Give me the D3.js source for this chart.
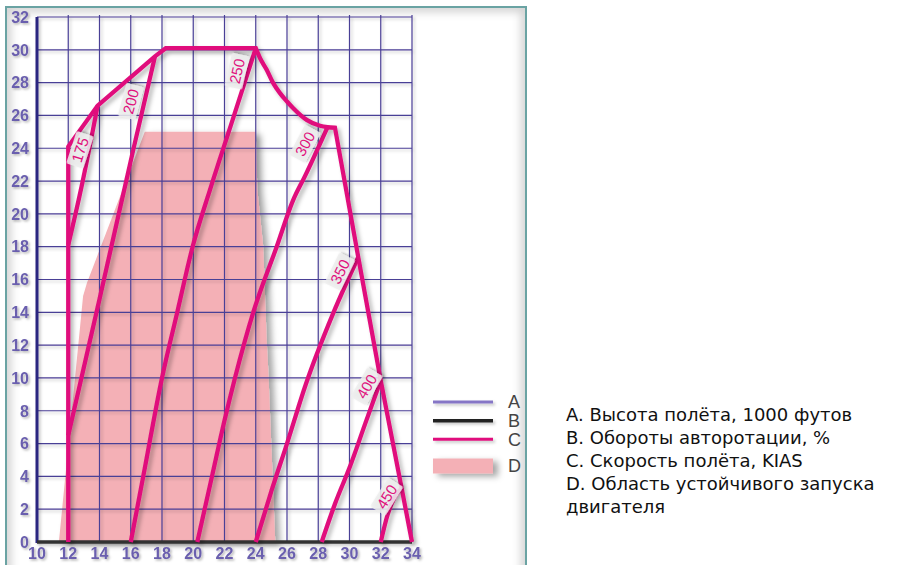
<!DOCTYPE html>
<html><head><meta charset="utf-8">
<script src="https://cdn.jsdelivr.net/npm/d3@7"></script>
<style>body{margin:0;background:#fff;} svg{display:block;}</style>
</head><body>
<svg id="chart" width="898" height="565"></svg>
<script>
// ---------- data ----------
const xTicks = [10,12,14,16,18,20,22,24,26,28,30,32,34];
const yTicks = [0,2,4,6,8,10,12,14,16,18,20,22,24,26,28,30,32];

// envelope (outer boundary of speed lines)
const envelopeLeft  = [[12,0],[12,24.1],[13.88,26.6],[17.55,29.6],[18.24,30.1],[24,30.1]];
const envelopeArc   = [[24,30.1],[24.27,29.5],[24.7,28.78],[25.1,28.0],[25.55,27.36],[26.0,26.85],[26.4,26.44],[27.26,25.73],[28.11,25.37],[28.6,25.28],[29.07,25.25]];
const envelopeRight = [[29.07,25.25],[30.56,17.36],[32.0,9.84],[33.34,3.27],[34,0]];

// speed lines (KIAS)
const speedNames = ["175","200","250","300","350","400","450"];
const speed175 = [[12,18.1],[12.86,21.7],[13.88,26.6]];
const speed200 = [[12,6.5],[14.0,14.8],[16.16,23.9],[17.55,29.6]];
const speed250 = [[16,0],[16.8,4],[18,10],[19,14.1],[19.96,18],[21.07,21.46],[22.4,25.38],[24,30.1]];
const speed300 = [[20.26,0],[21.2,4],[22.0,7.4],[22.67,10],[23.84,14],[25.34,18],[26.4,20.85],[27.15,22.3],[28.58,25.26]];
const speed350 = [[24,0],[25,3.1],[26,6],[27.2,9.6],[28.96,13.95],[30.56,17.36]];
const speed400 = [[28.22,0],[29.1,2.4],[30.03,4.6],[31,7.2],[32,9.84]];
const speed450 = [[32,0],[32.45,1.7],[32.9,2.75],[33.34,3.27]];
const speedSeries = [speed175,speed200,speed250,speed300,speed350,speed400,speed450];
// label anchor (data units) and angle for each speed line
const labelPos   = [[12.75,23.9],[16.0,26.85],[22.8,28.7],[27.15,24.27],[29.39,16.48],[31.1,9.48],[32.38,2.76]];
const labelAngle = [-72,-75,-77,-62,-64,-60,-58];

// D: stable engine start region
const stableRegion = [[11.4,0],[12.95,15.0],[13.2,15.8],[13.6,16.8],[16.9,25],[24,25],[24.1,21.5],[24.48,18],[24.7,12.3],[24.8,10.5],[25.25,0]];

const legendKeys  = ["A","B","C","D"];
const legendTexts = ["A. Высота полёта, 1000 футов","B. Обороты авторотации, %","C. Скорость полёта, KIAS","D. Область устойчивого запуска","двигателя"];

// ---------- drawing ----------
const svg = d3.select("#chart");
const x = d3.scaleLinear().domain([10,34]).range([37,412]);
const y = d3.scaleLinear().domain([0,32]).range([542,17]);

const defs = svg.append("defs");
function shadow(id, dx, dy, sd, op){
  const f = defs.append("filter").attr("id",id).attr("filterUnits","userSpaceOnUse")
    .attr("x",-200).attr("y",-200).attr("width",1300).attr("height",1000);
  f.append("feDropShadow").attr("dx",dx).attr("dy",dy).attr("stdDeviation",sd)
   .attr("flood-color","#000").attr("flood-opacity",op);
}
shadow("shLine",3,3,2,0.28);
shadow("shGrid",2,2,1.5,0.22);
shadow("shText",1.5,1.5,1,0.3);
shadow("shArea",5,3,3,0.35);
defs.append("filter").attr("id","blur").append("feGaussianBlur").attr("stdDeviation",4);
defs.append("clipPath").attr("id","frameClip").append("rect")
  .attr("x",6).attr("y",7).attr("width",520).attr("height",600);

// frame with inner shadow
svg.append("rect").attr("x",6).attr("y",7).attr("width",520).attr("height",600)
  .attr("fill","#fff");
svg.append("rect").attr("x",6).attr("y",7).attr("width",520).attr("height",600)
  .attr("fill","none").attr("stroke","#000").attr("stroke-opacity",0.18).attr("stroke-width",10)
  .attr("filter","url(#blur)").attr("clip-path","url(#frameClip)");
svg.append("rect").attr("x",6).attr("y",7).attr("width",520).attr("height",600)
  .attr("fill","none").attr("stroke","#6aa3a3").attr("stroke-width",2);

// D region
svg.append("path").datum(stableRegion)
  .attr("d", d3.line().x(d=>x(d[0])).y(d=>y(d[1])))
  .attr("fill","#f4b0b6").attr("filter","url(#shArea)");

// grid
const grid = svg.append("g").attr("filter","url(#shGrid)");
grid.selectAll("line.v").data(xTicks.slice(1)).join("line")
  .attr("x1",d=>x(d)).attr("x2",d=>x(d)).attr("y1",y(32)-2).attr("y2",y(0))
  .attr("stroke","#4a3f96").attr("stroke-width",1.2);
grid.selectAll("line.h").data(yTicks.slice(1)).join("line")
  .attr("x1",x(10)).attr("x2",x(34)).attr("y1",d=>y(d)).attr("y2",d=>y(d))
  .attr("stroke","#4a3f96").attr("stroke-width",1.2);

// axes lines
svg.append("line").attr("x1",x(10)).attr("x2",x(10)).attr("y1",y(32)).attr("y2",y(0)+1)
  .attr("stroke","#2c2580").attr("stroke-width",3).attr("filter","url(#shGrid)");
svg.append("line").attr("x1",x(10)).attr("x2",x(34)).attr("y1",y(0)).attr("y2",y(0))
  .attr("stroke","#333").attr("stroke-width",3.5).attr("filter","url(#shGrid)");

// tick labels
const tl = svg.append("g").attr("font-family","Liberation Sans, Arial, sans-serif")
  .attr("font-size",16).attr("font-weight","bold").attr("fill","#6a5fae").attr("filter","url(#shText)");
tl.selectAll("text.y").data(yTicks).join("text")
  .attr("x",29).attr("y",d=>y(d)).attr("dy","0.36em").attr("text-anchor","end").text(d=>d);
tl.selectAll("text.x").data(xTicks).join("text")
  .attr("x",d=>x(d)).attr("y",559).attr("text-anchor","middle").text(d=>d);

// speed lines and envelope
const line = d3.line().x(d=>x(d[0])).y(d=>y(d[1]));
const smooth = d3.line().x(d=>x(d[0])).y(d=>y(d[1])).curve(d3.curveMonotoneX);
const lines = svg.append("g").attr("filter","url(#shLine)")
  .attr("fill","none").attr("stroke","#e0107c").attr("stroke-width",4.3).attr("stroke-linejoin","miter");
speedSeries.forEach(s=>lines.append("path").attr("d",smooth(s)));
lines.append("path").attr("d", line(envelopeLeft) + smooth(envelopeArc).replace(/^M/,"L") + line(envelopeRight).replace(/^M/,"L"));

// speed labels
const lab = svg.append("g");
speedNames.forEach((n,i)=>{
  const g = lab.append("g").attr("transform",`translate(${x(labelPos[i][0])},${y(labelPos[i][1])}) rotate(${labelAngle[i]})`);
  g.append("rect").attr("x",-17).attr("y",-9).attr("width",34).attr("height",18).attr("rx",2)
   .attr("fill","#eeeeee").attr("fill-opacity",0.85).attr("filter","url(#shText)");
  g.append("text").attr("text-anchor","middle").attr("dy","0.36em")
   .attr("font-family","Liberation Sans, Arial, sans-serif").attr("font-size",15)
   .attr("fill","#e0107c").text(n);
});

// legend
const ly = d3.scalePoint().domain(legendKeys).range([402,458]);
const lg = svg.append("g");
lg.append("line").attr("x1",433).attr("x2",493).attr("y1",ly("A")).attr("y2",ly("A"))
  .attr("stroke","#8676c6").attr("stroke-width",3).attr("filter","url(#shGrid)");
lg.append("line").attr("x1",433).attr("x2",493).attr("y1",ly("B")).attr("y2",ly("B"))
  .attr("stroke","#222").attr("stroke-width",3.5).attr("filter","url(#shGrid)");
lg.append("line").attr("x1",433).attr("x2",493).attr("y1",ly("C")).attr("y2",ly("C"))
  .attr("stroke","#e0107c").attr("stroke-width",3).attr("filter","url(#shGrid)");
lg.append("rect").attr("x",433).attr("width",60).attr("y",ly("D")+0.5).attr("height",15)
  .attr("fill","#f4b0b6").attr("filter","url(#shArea)");
lg.selectAll("text").data(legendKeys).join("text")
  .attr("x",508).attr("y",(d,i)=> i<3 ? ly(d) : ly(d)+8).attr("dy","0.36em")
  .attr("font-family","Liberation Sans, Arial, sans-serif").attr("font-size",18).attr("fill","#444").text(d=>d);

// description text
svg.append("g").selectAll("text").data(legendTexts).join("text")
  .attr("x",566).attr("y",(d,i)=>421+i*23)
  .attr("font-family","DejaVu Sans, sans-serif").attr("font-size",18).attr("fill","#111").text(d=>d);
</script>
</body></html>
